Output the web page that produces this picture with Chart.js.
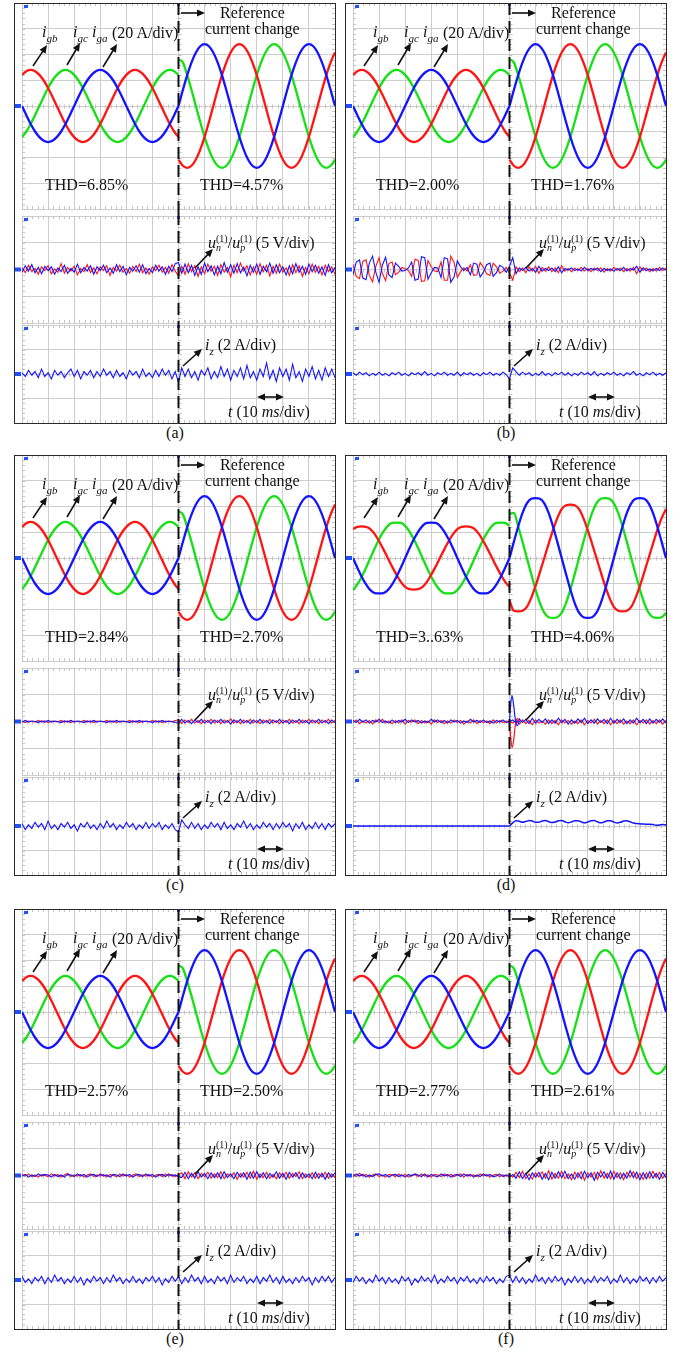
<!DOCTYPE html>
<html><head><meta charset="utf-8">
<script src="https://cdn.jsdelivr.net/npm/chart.js@4.4.1/dist/chart.umd.min.js"></script>
<style>
html,body{margin:0;padding:0;background:#fff;}
#page{position:relative;width:685px;height:1354px;overflow:hidden;font-family:"Liberation Serif","Times New Roman",serif;color:#111;background:#fff;}
canvas{position:absolute;}
.frame{position:absolute;border:1.5px solid #2a2a2a;box-sizing:border-box;pointer-events:none;z-index:5;}
.txt{position:absolute;font-size:16px;line-height:16px;white-space:nowrap;z-index:6;}
.it{font-style:italic;}
.sb{font-size:11px;font-style:italic;position:relative;top:5px;}
.ss{display:inline-block;vertical-align:-3px;font-size:10px;line-height:9px;}
.ss span{display:block;}
.ss .lo{font-style:italic;}
svg.ov{position:absolute;left:0;top:0;z-index:7;}
</style></head>
<body><div id="page"></div>
<script>
// ---------- time base ----------
const CHANGE_T = 6;   // reference current change (div)
const T_END = 12;     // screen width (div)

// ---------- grid currents (A), one sample every 1/6 div ----------
// shared by panels (a),(b),(c),(e),(f)
const igbPre  = [24.2,27.0,28,27.0,24.2,19.8,14.0,7.2,0,-7.2,-14.0,-19.8,-24.2,-27.0,-28,-27.0,-24.2,-19.8,-14.0,-7.2,0,7.2,14.0,19.8,24.2,27.0,28,27.0,24.2,19.8,14.0,7.2,0,-7.2,-14.0,-19.8,-24.2];
const igbPost = [-41.6,-46.4,-48,-46.4,-41.6,-33.9,-24,-12.4,0,12.4,24,33.9,41.6,46.4,48,46.4,41.6,33.9,24,12.4,0,-12.4,-24,-33.9,-41.6,-46.4,-48,-46.4,-41.6,-33.9,-24,-12.4,0,12.4,24,33.9,41.6];
const igcPre  = [-24.2,-19.8,-14.0,-7.2,0,7.2,14.0,19.8,24.2,27.0,28,27.0,24.2,19.8,14.0,7.2,0,-7.2,-14.0,-19.8,-24.2,-27.0,-28,-27.0,-24.2,-19.8,-14.0,-7.2,0,7.2,14.0,19.8,24.2,27.0,28,27.0,24.2];
const igcPost = [36,33.9,24,12.4,0,-12.4,-24,-33.9,-41.6,-46.4,-48,-46.4,-41.6,-33.9,-24,-12.4,0,12.4,24,33.9,41.6,46.4,48,46.4,41.6,33.9,24,12.4,0,-12.4,-24,-33.9,-41.6,-46.4,-48,-46.4,-41.6];
const igaPre  = [0,-7.2,-14.0,-19.8,-24.2,-27.0,-28,-27.0,-24.2,-19.8,-14.0,-7.2,0,7.2,14.0,19.8,24.2,27.0,28,27.0,24.2,19.8,14.0,7.2,0,-7.2,-14.0,-19.8,-24.2,-27.0,-28,-27.0,-24.2,-19.8,-14.0,-7.2,0];
const igaPost = [0,12.4,24,33.9,41.6,46.4,48,46.4,41.6,33.9,24,12.4,0,-12.4,-24,-33.9,-41.6,-46.4,-48,-46.4,-41.6,-33.9,-24,-12.4,0,12.4,24,33.9,41.6,46.4,48,46.4,41.6,33.9,24,12.4,0];
// panel (d): flattened peaks
const igbPreD  = [22.5,24.2,24.5,24.2,22.5,18.5,13,6.7,0,-6.7,-13,-18.5,-22.5,-24.2,-24.5,-24.2,-22.5,-18.5,-13,-6.7,0,6.7,13,18.5,22.5,24.2,24.5,24.2,22.5,18.5,13,6.7,0,-6.7,-13,-18.5,-22.5];
const igbPostD = [-33,-41,-41.5,-41,-38,-31,-21.7,-11,0,11,21.7,31,38,41,41.5,41,38,31,21.7,11,0,-11,-21.7,-31,-38,-41,-41.5,-41,-38,-31,-21.7,-11,0,11,21.7,31,38];
const igcPreD  = [-25,-20.5,-14.5,-7.5,0,7.5,14.5,20.5,25,27.2,27.5,27.2,25,20.5,14.5,7.5,0,-7.5,-14.5,-20.5,-25,-27.2,-27.5,-27.2,-25,-20.5,-14.5,-7.5,0,7.5,14.5,20.5,25,27.2,27.5,27.2,25];
const igcPostD = [34,35,24.5,12.5,0,-12.5,-24.5,-35,-42.5,-46,-46.5,-46,-42.5,-35,-24.5,-12.5,0,12.5,24.5,35,42.5,46,46.5,46,42.5,35,24.5,12.5,0,-12.5,-24.5,-35,-42.5,-46,-46.5,-46,-42.5];
const igaPreD  = [0,-7.5,-14.5,-20.5,-25,-27.2,-27.5,-27.2,-25,-20.5,-14.5,-7.5,0,7.5,14.5,20.5,25,27.2,27.5,27.2,25,20.5,14.5,7.5,0,-7.5,-14.5,-20.5,-25,-27.2,-27.5,-27.2,-25,-20.5,-14.5,-7.5,0];
const igaPostD = [0,12.5,24.5,35,42.5,46,46.5,46,42.5,35,24.5,12.5,0,-12.5,-24.5,-35,-42.5,-46,-46.5,-46,-42.5,-35,-24.5,-12.5,0,12.5,24.5,35,42.5,46,46.5,46,42.5,35,24.5,12.5,0];

// ---------- u_n(1) / u_p(1) (V), one sample every 1/8 div over 0..12 ----------
const unA = [-0.5,0.7,-0.3,0.9,-0.6,0.4,-0.8,0.6,-0.2,0.5,-0.9,0.3,-0.4,0.8,-0.7,0.2,-0.5,1.0,-0.6,0.4,-0.3,0.7,-0.9,0.5,-0.2,0.8,-0.6,0.3,-0.7,0.9,-0.4,0.6,-1.0,0.4,-0.3,0.7,-0.5,0.9,-0.8,0.2,-0.6,0.8,-0.3,0.5,-0.9,0.6,-0.4,1.1,1.3,-0.7,1.0,-0.6,0.8,-1.1,0.5,-0.9,1.2,-0.4,0.7,-1.0,0.6,-0.8,1.3,-0.5,0.9,-0.7,1.1,-0.6,0.4,-1.2,0.8,-0.5,1.0,-0.9,0.6,-0.4,1.2,-0.7,0.9,-0.6,0.5,-1.0,0.7,-0.8,1.1,-0.5,0.6,-0.9,1.0,-0.4,0.8,-0.7,0.5,-1.1,0.9,-0.6,0.4];
const upA = [0.3,-0.6,0.8,-0.4,0.2,-0.9,0.5,-0.2,0.7,-0.8,0.1,-0.5,1.1,-0.7,0.4,-0.3,0.6,-1.0,0.2,-0.4,0.9,-0.6,0.3,-0.8,0.5,-0.2,0.7,-1.1,0.4,-0.3,0.8,-0.5,0.2,-0.7,0.6,-0.4,1.0,-0.6,0.3,-0.9,0.5,-0.2,0.8,-0.5,0.4,-0.7,0.9,-0.3,-1.2,0.6,-0.9,1.1,-0.4,0.7,-1.3,0.5,-0.8,1.0,-0.3,0.6,-1.1,0.9,-0.5,0.4,-1.4,0.8,-0.6,1.2,-0.3,0.7,-1.0,0.5,-0.9,1.1,-0.4,0.8,-1.2,0.6,-0.7,1.0,-0.5,0.3,-1.1,0.9,-0.6,0.7,-1.3,0.4,-0.8,1.0,-0.5,0.6,-1.0,0.8,-0.4,0.5,-0.9];
const unB = [-1.0,1.4,1.8,-1.6,-1.9,1.2,2.5,-0.5,-2.4,0.8,2.3,-1.0,-1.5,1.2,0.6,-0.3,-0.2,0.3,1.4,-2.0,-1.8,2.4,2.2,-1.8,-0.6,0.4,0.3,-1.5,2.2,2.0,-2.4,-1.4,1.6,0.5,-0.2,0.4,-1.0,1.2,1.0,-1.4,-0.5,0.9,1.2,-1.3,-0.6,0.8,0.4,-0.5,0.6,2.2,-0.8,0.3,-0.2,0.4,-0.3,0.2,-0.5,0.6,-0.3,0.2,-0.2,0.3,-0.4,0.5,-0.6,0.2,-0.1,0.3,-0.2,0.1,-0.3,0.4,-0.2,0.2,-0.1,0.3,-0.4,0.2,-0.2,0.1,-0.3,0.2,-0.2,0.4,-0.3,0.2,-0.1,0.6,-0.5,0.3,-0.2,0.1,-0.3,0.2,-0.2,0.3,-0.1];
const upB = [0.9,-1.3,-1.7,1.5,1.8,-1.1,-2.3,0.6,2.2,-0.7,-2.1,1.1,1.4,-1.0,-0.5,0.4,0.2,-0.2,-1.3,1.9,1.7,-2.2,-2.1,1.7,0.5,-0.3,-0.4,1.4,-2.0,-2.0,2.5,1.3,-1.5,-0.4,0.3,-0.3,0.9,-1.1,-1.0,1.3,0.4,-0.8,-1.1,1.2,0.5,-0.7,-0.3,0.4,-0.7,-2.0,0.5,-0.4,0.3,-0.6,0.5,-0.3,0.6,-0.7,0.4,-0.3,0.5,-0.4,0.3,-0.6,0.7,-0.3,0.2,-0.4,0.3,-0.2,0.4,-0.3,0.2,-0.4,0.3,-0.2,0.3,-0.5,0.2,-0.3,0.4,-0.2,0.3,-0.4,0.2,-0.3,0.4,-0.8,0.5,-0.2,0.3,-0.4,0.2,-0.3,0.4,-0.2,0.3];
const unC = [-0.1,0.2,-0.1,0.1,0.0,-0.2,0.1,-0.1,0.2,-0.1,0.1,0.0,-0.2,0.1,-0.1,0.2,-0.1,0.1,0.0,-0.2,0.1,-0.1,0.2,-0.1,0.1,0.0,-0.2,0.1,-0.1,0.2,-0.1,0.1,0.0,-0.2,0.1,-0.1,0.2,-0.1,0.1,0.0,-0.2,0.1,-0.1,0.2,-0.1,0.1,0.0,-0.2,-0.3,0.4,-0.3,0.2,-0.4,0.3,-0.2,0.4,-0.3,0.2,-0.4,0.3,-0.2,0.4,-0.3,0.2,-0.5,0.3,-0.2,0.4,-0.3,0.2,-0.4,0.3,-0.2,0.4,-0.3,0.2,-0.4,0.3,-0.2,0.4,-0.3,0.2,-0.4,0.3,-0.2,0.4,-0.3,0.2,-0.4,0.3,-0.2,0.4,-0.3,0.2,-0.4,0.3,-0.2];
const upC = [0.1,-0.2,0.1,0.0,-0.1,0.2,-0.1,0.1,-0.2,0.1,0.0,-0.1,0.2,-0.1,0.1,-0.2,0.1,0.0,-0.1,0.2,-0.1,0.1,-0.2,0.1,0.0,-0.1,0.2,-0.1,0.1,-0.2,0.1,0.0,-0.1,0.2,-0.1,0.1,-0.2,0.1,0.0,-0.1,0.2,-0.1,0.1,-0.2,0.1,0.0,-0.1,0.2,0.3,-0.4,0.3,-0.2,0.4,-0.3,0.2,-0.4,0.3,-0.2,0.4,-0.3,0.2,-0.4,0.3,-0.2,0.5,-0.3,0.2,-0.4,0.3,-0.2,0.4,-0.3,0.2,-0.4,0.3,-0.2,0.4,-0.3,0.2,-0.4,0.3,-0.2,0.4,-0.3,0.2,-0.4,0.3,-0.2,0.4,-0.3,0.2,-0.4,0.3,-0.2,0.4,-0.3,0.2];
const unD = [0.2,-0.2,0.4,-0.1,0.3,-0.3,0.2,-0.1,0.4,-0.2,0.1,-0.3,0.3,-0.2,0.2,-0.1,0.4,-0.2,0.3,-0.1,0.2,-0.3,0.1,-0.2,0.4,-0.1,0.3,-0.2,0.2,-0.3,0.3,-0.1,0.2,-0.3,0.1,-0.2,0.4,-0.1,0.2,-0.2,0.3,-0.2,0.1,-0.3,0.2,-0.1,0.3,-0.2,0.0,0.3,-0.3,0.5,-0.2,0.4,-0.4,0.6,-0.3,0.4,-0.2,0.5,-0.4,0.3,-0.3,0.6,-0.2,0.4,-0.5,0.3,-0.3,0.5,-0.2,0.6,-0.4,0.3,-0.3,0.5,-0.2,0.4,-0.4,0.6,-0.3,0.4,-0.2,0.5,-0.4,0.3,-0.3,0.6,-0.2,0.4,-0.4,0.5,-0.3,0.4,-0.2,0.5,-0.3];
const upD = [-0.2,0.3,-0.4,0.1,-0.3,0.2,-0.5,0.3,-0.2,0.4,-0.3,0.1,-0.4,0.2,-0.3,0.3,-0.5,0.2,-0.1,0.3,-0.4,0.2,-0.3,0.1,-0.5,0.3,-0.2,0.2,-0.4,0.1,-0.3,0.3,-0.2,0.2,-0.5,0.1,-0.3,0.3,-0.4,0.2,-0.2,0.1,-0.4,0.3,-0.3,0.2,-0.2,0.1,0.0,-0.3,0.2,-0.5,0.3,-0.4,0.2,-0.6,0.3,-0.3,0.1,-0.5,0.3,-0.4,0.2,-0.6,0.3,-0.3,0.2,-0.5,0.1,-0.4,0.3,-0.6,0.2,-0.3,0.4,-0.5,0.2,-0.4,0.3,-0.6,0.2,-0.4,0.3,-0.5,0.1,-0.4,0.3,-0.6,0.2,-0.3,0.3,-0.5,0.2,-0.4,0.3,-0.5,0.2];
const dTransT  = [6.0,6.05,6.1,6.16,6.22,6.3,6.38];
const dTransUn = [0,3.5,4.8,3.0,0.5,-0.8,0.2];
const dTransUp = [0,-3.2,-4.9,-3.5,-0.8,0.6,-0.1];
const unE = [-0.1,0.2,-0.3,0.1,-0.2,0.3,-0.1,0.2,0.1,-0.3,0.2,-0.2,0.1,-0.3,0.2,0.1,-0.2,0.3,-0.1,0.2,-0.3,0.1,0.2,-0.2,0.3,-0.1,0.1,-0.3,0.2,0.1,-0.2,0.3,-0.1,0.2,-0.3,0.1,0.2,-0.2,0.3,-0.1,0.2,-0.3,0.1,0.2,-0.2,0.3,-0.1,0.1,-0.2,-0.4,0.6,-0.6,0.4,-0.5,0.7,-0.3,0.4,-0.6,0.5,-0.4,0.5,-0.6,0.7,-0.4,0.3,-0.6,0.6,-0.3,0.5,-0.7,0.6,-0.5,0.7,-0.4,0.5,-0.6,0.4,-0.3,0.7,-0.5,0.4,-0.7,0.6,-0.3,0.5,-0.6,0.5,-0.4,0.3,-0.6,0.6,-0.5,0.4,-0.7,0.5,-0.3,0.5];
const upE = [0.2,-0.1,0.3,-0.2,0.1,-0.3,0.2,0.0,-0.2,0.3,-0.1,0.2,-0.3,0.1,0.4,-0.2,0.1,-0.1,0.2,-0.3,0.1,0.3,-0.2,0.1,-0.1,0.2,-0.3,0.2,0.0,-0.2,0.3,-0.1,0.2,-0.3,0.1,0.3,-0.2,0.1,-0.1,0.2,-0.3,0.1,0.2,-0.2,0.3,-0.1,0.2,-0.2,0.1,0.5,-0.6,0.7,-0.3,0.5,-0.6,0.4,-0.2,0.6,-0.5,0.3,-0.4,0.7,-0.6,0.3,-0.2,0.5,-0.7,0.4,-0.3,0.6,-0.5,0.8,-0.7,0.3,-0.4,0.6,-0.5,0.2,-0.6,0.5,-0.3,0.6,-0.5,0.4,-0.2,0.7,-0.6,0.3,-0.4,0.5,-0.5,0.4,-0.3,0.6,-0.5,0.3,-0.4];
const unF = [-0.2,0.3,-0.1,0.2,-0.3,0.1,-0.2,0.2,0.3,-0.1,0.2,-0.3,0.1,0.2,-0.2,0.1,-0.3,0.2,-0.1,0.3,0.1,-0.2,0.3,-0.3,0.2,-0.1,-0.2,0.3,-0.1,0.2,-0.3,0.1,0.2,-0.2,0.3,-0.1,0.2,-0.3,0.1,-0.2,0.3,-0.1,0.2,-0.2,-0.1,0.3,-0.2,0.1,-0.3,0.2,-0.5,0.7,-0.6,0.4,-0.8,0.5,-0.3,0.6,-0.7,0.4,-0.8,0.6,-0.5,0.7,-0.4,0.8,-0.6,0.3,-0.7,0.5,-0.6,0.8,-0.4,0.5,-0.9,0.6,-0.3,0.7,-0.5,0.8,-0.7,0.5,-0.6,0.4,-0.5,0.9,-0.4,0.6,-0.8,0.5,-0.6,0.7,-0.5,0.4,-0.7,0.6,-0.4];
const upF = [0.3,-0.2,0.4,-0.1,0.2,-0.3,0.1,0.3,-0.2,0.1,-0.3,0.2,0.1,-0.2,0.3,-0.1,0.2,-0.3,0.1,0.2,-0.2,0.3,-0.1,0.1,-0.3,0.2,0.1,-0.2,0.3,-0.1,0.2,-0.2,0.1,0.3,-0.3,0.2,-0.1,0.1,-0.2,0.3,-0.1,0.2,-0.3,0.1,0.2,-0.2,0.1,-0.1,0.2,-0.3,0.6,-0.4,0.8,-0.6,0.3,-0.7,0.5,-0.3,0.7,-0.5,0.9,-0.7,0.4,-0.5,0.8,-0.6,0.3,-0.8,0.6,-0.4,0.7,-0.9,0.5,-0.3,0.6,-0.7,0.9,-0.5,0.4,-0.6,0.8,-0.4,0.5,-0.8,0.6,-0.3,0.7,-0.6,0.4,-0.7,0.5,-0.5,0.8,-0.4,0.6,-0.5,0.4];

// ---------- i_z (A), one sample every 1/8 div over 0..12 ----------
const izA = [0.1,-0.2,0.3,-0.1,0.2,-0.3,0.4,-0.2,0.1,-0.4,0.3,-0.1,0.2,-0.3,0.1,0.4,-0.2,0.3,-0.4,0.2,-0.1,0.3,-0.3,0.2,-0.2,0.4,-0.1,0.2,-0.3,0.3,-0.2,0.1,-0.4,0.3,-0.1,0.2,-0.3,0.4,-0.2,0.1,-0.3,0.3,-0.2,0.4,-0.1,0.3,-0.4,0.2,-0.7,0.5,-0.2,0.4,-0.3,0.2,-0.5,0.3,-0.1,0.5,-0.4,0.2,-0.3,0.6,-0.2,0.4,-0.5,0.3,-0.2,0.5,-0.4,0.7,-0.3,0.2,-0.5,0.4,-0.2,0.9,-0.4,0.3,-0.6,0.5,-0.2,0.4,-0.5,0.8,-0.3,0.2,-0.6,0.4,-0.2,0.6,-0.4,0.3,-0.5,0.5,-0.2,0.4,-0.3];
const izB = [0.1,-0.1,0.15,-0.05,0.1,-0.15,0.05,-0.1,0.15,-0.1,0.05,-0.15,0.1,-0.05,0.15,-0.1,0.05,-0.15,0.1,-0.05,0.1,-0.1,0.2,-0.1,0.05,-0.15,0.1,-0.05,0.15,-0.1,0.05,-0.1,0.15,-0.15,0.1,-0.05,0.1,-0.1,0.05,-0.15,0.1,-0.05,0.15,-0.1,0.05,-0.1,0.15,-0.05,-0.4,0.5,0.2,-0.1,0.15,-0.05,0.1,-0.15,0.05,-0.1,0.2,-0.1,0.05,-0.15,0.1,-0.05,0.15,-0.1,0.1,-0.15,0.05,-0.1,0.15,-0.05,0.1,-0.1,0.2,-0.15,0.05,-0.1,0.1,-0.05,0.15,-0.1,0.05,-0.15,0.1,-0.05,0.2,-0.1,0.05,-0.15,0.1,-0.05,0.15,-0.1,0.05,-0.1,0.1];
const izC = [0.2,-0.3,0.1,-0.2,0.3,-0.1,0.2,-0.3,0.4,-0.2,0.1,-0.3,0.2,-0.1,0.3,-0.2,0.1,-0.4,0.2,-0.1,0.3,-0.2,0.1,-0.3,0.2,-0.2,0.4,-0.1,0.2,-0.3,0.1,-0.2,0.3,-0.1,0.2,-0.3,0.1,-0.2,0.3,-0.2,0.2,-0.1,0.3,-0.3,0.1,-0.2,0.2,-0.3,-0.5,0.5,0.1,-0.2,0.3,-0.2,0.2,-0.3,0.1,-0.2,0.3,-0.1,0.2,-0.3,0.3,-0.2,0.1,-0.3,0.2,-0.1,0.4,-0.2,0.2,-0.3,0.1,-0.2,0.3,-0.1,0.2,-0.3,0.2,-0.2,0.3,-0.1,0.2,-0.4,0.2,-0.2,0.3,-0.3,0.1,-0.2,0.3,-0.2,0.2,-0.3,0.2,-0.1,0.2];
const izDPre  = [0,0,0,0,0,0,0];
const izDPost = [0.0,0.25,0.42,0.38,0.30,0.36,0.44,0.40,0.30,0.30,0.40,0.44,0.36,0.28,0.32,0.42,0.44,0.35,0.27,0.33,0.43,0.43,0.34,0.26,0.32,0.42,0.44,0.34,0.26,0.32,0.42,0.42,0.32,0.25,0.30,0.40,0.42,0.34,0.24,0.20,0.18,0.16,0.15,0.15,0.12,0.06,0.08,0.12,0.08];
const izE = [0.3,-0.2,0.1,-0.3,0.2,-0.1,0.3,-0.3,0.2,-0.2,0.4,-0.1,0.2,-0.3,0.1,-0.2,0.3,-0.2,0.2,-0.4,0.1,-0.2,0.3,-0.1,0.2,-0.3,0.2,-0.2,0.4,-0.1,0.2,-0.3,0.1,-0.2,0.3,-0.2,0.1,-0.3,0.2,-0.1,0.3,-0.2,0.2,-0.4,0.1,-0.2,0.3,-0.1,0.3,-0.3,0.2,-0.2,0.4,-0.1,0.2,-0.3,0.3,-0.2,0.1,-0.3,0.3,-0.1,0.2,-0.3,0.4,-0.2,0.2,-0.1,0.3,-0.3,0.1,-0.2,0.3,-0.3,0.2,-0.1,0.4,-0.2,0.2,-0.3,0.3,-0.2,0.1,-0.3,0.2,-0.2,0.3,-0.1,0.2,-0.4,0.2,-0.2,0.3,-0.1,0.3,-0.2,0.2];
const izF = [-0.2,0.3,-0.1,0.2,-0.3,0.1,-0.2,0.4,-0.1,0.2,-0.3,0.2,-0.2,0.1,-0.3,0.3,-0.1,0.2,-0.4,0.1,-0.2,0.3,-0.1,0.2,-0.2,0.4,-0.3,0.1,-0.2,0.3,-0.1,0.2,-0.3,0.2,-0.1,0.3,-0.2,0.1,-0.3,0.2,-0.2,0.3,-0.1,0.2,-0.3,0.1,-0.2,0.3,0.4,-0.2,0.3,-0.2,0.2,-0.3,0.1,-0.2,0.4,-0.1,0.2,-0.3,0.2,-0.2,0.3,-0.1,0.2,-0.4,0.1,-0.2,0.3,-0.2,0.2,-0.3,0.1,-0.2,0.3,-0.2,0.2,-0.1,0.3,-0.3,0.1,-0.2,0.4,-0.2,0.2,-0.3,0.1,-0.2,0.3,-0.1,0.2,-0.3,0.2,-0.2,0.3,-0.1,0.2];

// ---------- labels ----------
const panelTags = ['(a)','(b)','(c)','(d)','(e)','(f)'];
const thdBefore = ['THD=6.85%','THD=2.00%','THD=2.84%','THD=3..63%','THD=2.57%','THD=2.77%'];
const thdAfter  = ['THD=4.57%','THD=1.76%','THD=2.70%','THD=4.06%','THD=2.50%','THD=2.61%'];

// ---------- styling / layout ----------
const RED = '#ff1414', GREEN = '#14e014', BLUE = '#1414ff';
const LAYOUT = [[14,3],[345,3],[14,455],[345,455],[14,909],[345,909]];
const STD = [igbPre, igbPost, igcPre, igcPost, igaPre, igaPost];
const DCUR = [igbPreD, igbPostD, igcPreD, igcPostD, igaPreD, igaPostD];
const PANELS = [
  {cur: STD,  un: unA, up: upA, iz: [[izA,0,T_END]]},
  {cur: STD,  un: unB, up: upB, iz: [[izB,0,T_END]]},
  {cur: STD,  un: unC, up: upC, iz: [[izC,0,T_END]]},
  {cur: DCUR, un: unD, up: upD, iz: [[izDPre,0,CHANGE_T],[izDPost,CHANGE_T,T_END]], trans: true},
  {cur: STD,  un: unE, up: upE, iz: [[izE,0,T_END]]},
  {cur: STD,  un: unF, up: upF, iz: [[izF,0,T_END]]},
];

function series(vals, t0, t1) {
  const n = vals.length;
  return vals.map((v, i) => ({x: t0 + (t1 - t0) * i / (n - 1), y: v}));
}
function seriesT(ts, vals) { return vals.map((v, i) => ({x: ts[i], y: v})); }

const scopePlugin = {
  id: 'scope',
  beforeDatasetsDraw(chart) {
    const {ctx, chartArea: a, scales: {x, y}} = chart;
    ctx.save();
    ctx.strokeStyle = '#c4c4c4'; ctx.lineWidth = 1;
    const yc = Math.round(y.getPixelForValue((y.min + y.max) / 2)) + 0.5;
    const xc = Math.round(x.getPixelForValue(CHANGE_T)) + 0.5;
    ctx.beginPath();
    for (let k = 0; k <= 60; k++) {
      const px = Math.round(x.getPixelForValue(k / 5)) + 0.5;
      ctx.moveTo(px, yc - 2); ctx.lineTo(px, yc + 2);
      ctx.moveTo(px, a.top); ctx.lineTo(px, a.top + 3);
      ctx.moveTo(px, a.bottom - 3); ctx.lineTo(px, a.bottom);
    }
    const nDiv = Math.round((y.max - y.min) / y.options.ticks.stepSize) * 5;
    for (let k = 0; k <= nDiv; k++) {
      const py = Math.round(a.top + (a.bottom - a.top) * k / nDiv) + 0.5;
      ctx.moveTo(xc - 2, py); ctx.lineTo(xc + 2, py);
      ctx.moveTo(a.left, py); ctx.lineTo(a.left + 3, py);
      ctx.moveTo(a.right - 3, py); ctx.lineTo(a.right, py);
    }
    ctx.stroke();
    ctx.restore();
  },
  afterDatasetsDraw(chart) {
    const {ctx, chartArea: a, scales: {x, y}} = chart;
    ctx.save();
    ctx.fillStyle = '#2050ff';
    const y0 = y.getPixelForValue(0);
    ctx.fillRect(a.left - 7, y0 - 2, 6, 4);
    ctx.fillRect(a.left + 2, a.top + 2, 4, 3);
    const xc = x.getPixelForValue(CHANGE_T);
    ctx.fillRect(xc - 1.5, a.top, 3, 3);
    ctx.strokeStyle = '#111'; ctx.lineWidth = 2; ctx.setLineDash([12, 6]);
    ctx.beginPath(); ctx.moveTo(xc, 0); ctx.lineTo(xc, chart.height); ctx.stroke();
    ctx.restore();
  }
};

function lineDs(data, color, width, smooth) {
  return {data, borderColor: color, borderWidth: width, pointRadius: 0, fill: false,
          tension: 0, cubicInterpolationMode: smooth ? 'monotone' : 'default'};
}

function makeChart(page, left, top, w, h, pad, yMin, yMax, yStep, datasets) {
  const c = document.createElement('canvas');
  c.width = w; c.height = h;
  c.style.left = left + 'px'; c.style.top = top + 'px';
  c.style.width = w + 'px'; c.style.height = h + 'px';
  page.appendChild(c);
  const grid = {color: '#cdcdcd', lineWidth: 1, drawTicks: false};
  return new Chart(c, {
    type: 'line',
    data: {datasets},
    options: {
      animation: false, responsive: false, devicePixelRatio: 1, events: [],
      layout: {padding: pad},
      plugins: {legend: {display: false}, tooltip: {enabled: false}},
      scales: {
        x: {type: 'linear', min: 0, max: T_END, ticks: {display: false, stepSize: 1}, grid, border: {display: false}},
        y: {type: 'linear', min: yMin, max: yMax, ticks: {display: false, stepSize: yStep}, grid, border: {display: false}}
      }
    },
    plugins: [scopePlugin]
  });
}

function arrow(x1, y1, x2, y2, both) {
  const dx = x2 - x1, dy = y2 - y1, len = Math.hypot(dx, dy), ux = dx / len, uy = dy / len;
  const hl = 8, hw = 3.6;
  const head = (px, py, vx, vy) => {
    const bx = px - vx * hl, by = py - vy * hl;
    return `<polygon points="${px},${py} ${bx - vy * hw},${by + vx * hw} ${bx + vy * hw},${by - vx * hw}" fill="#111"/>`;
  };
  const sx = both ? x1 + ux * hl * 0.8 : x1, sy = both ? y1 + uy * hl * 0.8 : y1;
  let s = `<line x1="${sx}" y1="${sy}" x2="${x2 - ux * hl * 0.8}" y2="${y2 - uy * hl * 0.8}" stroke="#111" stroke-width="1.6"/>`;
  s += head(x2, y2, ux, uy);
  if (both) s += head(x1, y1, -ux, -uy);
  return s;
}

const page = document.getElementById('page');
let svg = '';
PANELS.forEach((p, i) => {
  const [L, T] = LAYOUT[i];
  // top: grid currents (20 A/div)
  const cur = p.cur;
  makeChart(page, L + 1, T, 320, 210, {left: 7, right: 0, top: 0, bottom: 4}, -80, 80, 20, [
    lineDs(series(cur[4], 0, CHANGE_T), BLUE, 2.3, true),
    lineDs(series(cur[5], CHANGE_T, T_END), BLUE, 2.3, true),
    lineDs(series(cur[0], 0, CHANGE_T), RED, 2.3, true),
    lineDs(series(cur[1], CHANGE_T, T_END), RED, 2.3, true),
    lineDs(series(cur[2], 0, CHANGE_T), GREEN, 2.3, true),
    lineDs(series(cur[3], CHANGE_T, T_END), GREEN, 2.3, true),
  ]);
  // middle: u_n / u_p (5 V/div)
  const mid = [
    lineDs(series(p.un, 0, T_END), BLUE, 1.1, false),
    lineDs(series(p.up, 0, T_END), RED, 1.1, false),
  ];
  if (p.trans) {
    mid.unshift(lineDs(seriesT(dTransT, dTransUp), RED, 1.2, true));
    mid.unshift(lineDs(seriesT(dTransT, dTransUn), BLUE, 1.2, true));
  }
  makeChart(page, L + 1, T + 210, 320, 111, {left: 7, right: 0, top: 3, bottom: 1}, -10, 10, 5, mid);
  // bottom: i_z (2 A/div)
  makeChart(page, L + 1, T + 321, 320, 100, {left: 7, right: 0, top: 1, bottom: 1}, -4, 4, 2,
    p.iz.map(([v, a, b]) => lineDs(series(v, a, b), BLUE, p.trans ? 1.5 : 1.1, !!p.trans)));

  // frame
  const fr = document.createElement('div');
  fr.className = 'frame';
  Object.assign(fr.style, {left: L + 'px', top: T + 'px', width: '322px', height: '421px'});
  page.appendChild(fr);

  // texts
  const texts = [
    [206, 2, 'Reference'],
    [191, 18, 'current change'],
    [31, 174, thdBefore[i]],
    [186, 174, thdAfter[i]],
    [28, 20.5, '<span class="it">i</span><span class="sb">gb</span>'],
    [59, 20.5, '<span class="it">i</span><span class="sb">gc</span>'],
    [78, 20.5, '<span class="it">i</span><span class="sb">ga</span>'],
    [98, 21.5, '(20 A/div)'],
    [194, 230.5, '<span class="it">u</span><span class="ss"><span>(1)</span><span class="lo">n</span></span>/<span class="it">u</span><span class="ss"><span>(1)</span><span class="lo">p</span></span> (5 V/div)'],
    [191, 333.5, '<span class="it">i</span><span class="sb">z</span> (2 A/div)'],
    [214, 400.5, '<span class="it">t</span> (10 <span class="it">ms</span>/div)'],
  ];
  texts.forEach(([x, y, h]) => {
    const d = document.createElement('div');
    d.className = 'txt';
    d.style.left = (L + x) + 'px'; d.style.top = (T + y) + 'px';
    d.innerHTML = h;
    page.appendChild(d);
  });
  const tg = document.createElement('div');
  tg.className = 'txt';
  tg.style.left = (L + 161) + 'px'; tg.style.top = (T + 422) + 'px';
  tg.style.transform = 'translateX(-50%)';
  tg.textContent = panelTags[i];
  page.appendChild(tg);

  // annotation arrows
  svg += arrow(L + 19, T + 63, L + 33, T + 42);
  svg += arrow(L + 53, T + 62, L + 66, T + 40);
  svg += arrow(L + 89, T + 64, L + 103, T + 41);
  svg += arrow(L + 181, T + 265, L + 199, T + 246);
  svg += arrow(L + 169, T + 363, L + 188, T + 346);
  svg += arrow(L + 167, T + 10, L + 191, T + 10);
  svg += arrow(L + 243, T + 394, L + 270, T + 394, true);
});
const ov = document.createElement('div');
ov.innerHTML = `<svg class="ov" width="685" height="1354" xmlns="http://www.w3.org/2000/svg">${svg}</svg>`;
page.appendChild(ov.firstChild);
</script>
</body></html>
